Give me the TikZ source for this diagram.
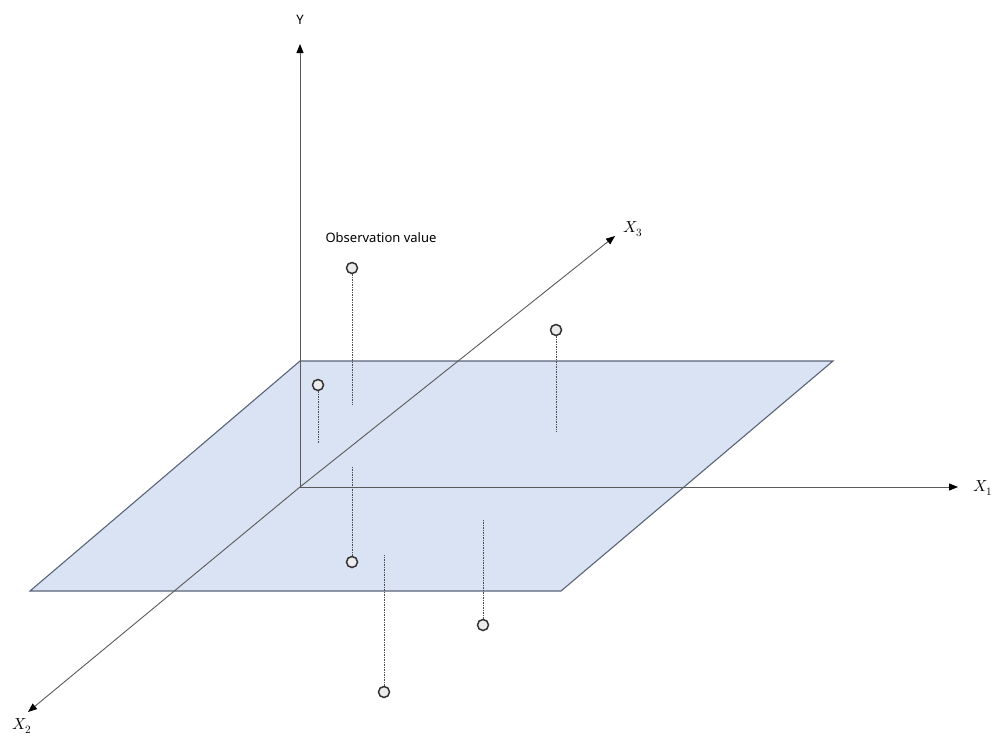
\documentclass[tikz,border=0pt]{standalone}
\usepackage{fontspec}
\setmainfont{Noto Sans}
\usepackage{unicode-math}
\usetikzlibrary{arrows.meta}
\definecolor{planefill}{HTML}{DAE3F3}
\definecolor{planeedge}{HTML}{5A6478}
\definecolor{axisgray}{HTML}{5A5A5A}
\tikzset{
  axis/.style={draw=axisgray, line width=0.9pt, -{Triangle[length=9pt,width=7pt,color=black]}},
  obs/.style={circle, draw=black!80, fill=gray!15, line width=1.5pt, inner sep=0pt, minimum size=11pt},
  drop/.style={draw=gray!60!black, dash pattern=on 1.5pt off 1pt, line width=0.8pt},
  lbl/.style={inner sep=1pt, font=\fontsize{13}{15}\selectfont},
  axlbl/.style={inner sep=0pt, font=\fontsize{16}{18}\selectfont}
}
\begin{document}
\begin{tikzpicture}[x=1pt,y=-1pt]
\useasboundingbox (0,0) rectangle (994,736);
% plane
\draw[fill=planefill, draw=planeedge, line width=1.1pt] (300,361) -- (833,361) -- (561,591) -- (30,591) -- cycle;
% axes
\coordinate (O) at (300,487);
\coordinate (Ytip) at (300,44);
\coordinate (X1tip) at (958,487);
\coordinate (X3tip) at (615,236);
\coordinate (X2tip) at (28,712);
\draw[axis] (O) -- (Ytip);
\draw[axis] (O) -- (X1tip);
\draw[axis] (O) -- (X3tip);
\draw[axis] (O) -- (X2tip);
\node[lbl] (Y) at (300,20) {Y};
\node[axlbl, anchor=east] (X1) at (993,488) {$X_1$};
\node[axlbl] (X3) at (633,229) {$X_3$};
\node[axlbl, anchor=south] (X2) at (22,734) {$X_2$};
% observations
\node[lbl] (obslabel) at (381,238) {Observation value};
\node[obs] (p1) at (352,268) {};
\node[obs] (p2) at (318,385) {};
\node[obs] (p3) at (556,330) {};
\node[obs] (p4) at (352,562) {};
\node[obs] (p5) at (483,625) {};
\node[obs] (p6) at (384,692) {};
\coordinate (f1) at (352,405);
\coordinate (f2) at (318,443);
\coordinate (f3) at (556,432);
\coordinate (f4) at (352,466);
\coordinate (f5) at (483,520);
\coordinate (f6) at (384,555);
\draw[drop] (p1) -- (f1);
\draw[drop] (p2) -- (f2);
\draw[drop] (p3) -- (f3);
\draw[drop] (p4) -- (f4);
\draw[drop] (p5) -- (f5);
\draw[drop] (p6) -- (f6);
\end{tikzpicture}
\end{document}
